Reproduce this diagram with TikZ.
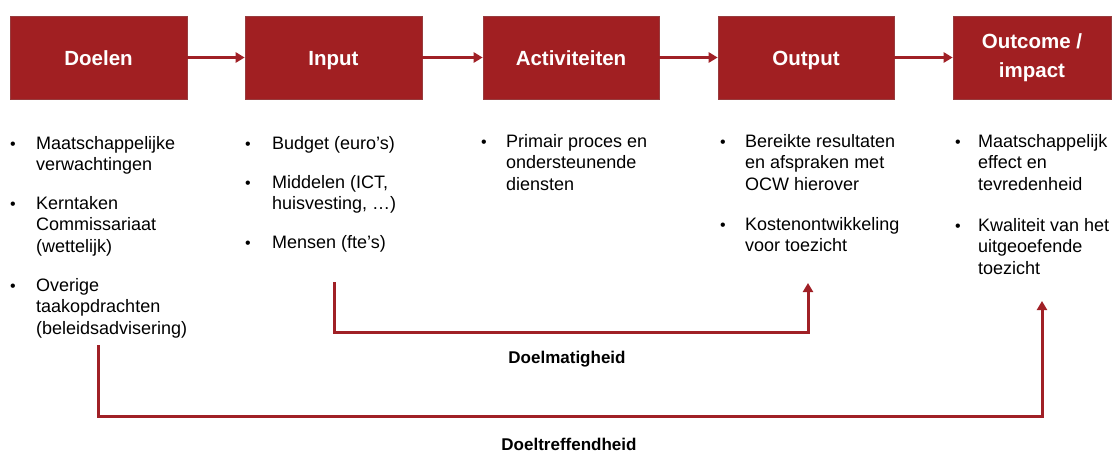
\documentclass[tikz,border=0pt]{standalone}
\usepackage{fontspec}
\setmainfont{Liberation Sans}
\usetikzlibrary{arrows.meta}
\definecolor{boxred}{RGB}{161,31,34}
\definecolor{linered}{RGB}{160,32,38}
\newcommand{\itm}[1]{\parbox[t]{160pt}{\raggedright #1}}
\begin{document}
\begin{tikzpicture}[x=1pt,y=-1pt,
  box/.style={fill=boxred,draw=boxred!70!gray,line width=0.6pt,text=white,font=\fontsize{20.5}{27}\selectfont\bfseries,align=center,minimum height=83pt,inner sep=0pt},
  onebox/.style={box,text height=18pt,text depth=2pt},
  twobox/.style={box,text height=18pt,text depth=31pt},
  conn/.style={draw=linered,line width=3pt,-{Triangle[length=9pt,width=10pt]}},
  loop/.style={draw=linered,line width=3pt,-{Triangle[length=9pt,width=10pt]}},
  item/.style={anchor=base west,inner sep=0pt,font=\fontsize{18}{21.5}\selectfont},
  bul/.style={anchor=base west,inner sep=0pt,font=\fontsize{16}{20}\selectfont},
  lab/.style={inner sep=0pt,font=\fontsize{17}{20}\selectfont\bfseries}]
\useasboundingbox (0,0) rectangle (1120,453);
% boxes
\node[onebox,minimum width=177pt] (doelen) at (98.5,57.5) {Doelen};
\node[onebox,minimum width=177pt] (input) at (333.5,57.5) {Input};
\node[onebox,minimum width=176pt] (activ) at (571,57.5) {Activiteiten};
\node[onebox,minimum width=176pt] (output) at (806,57.5) {Output};
\node[box,minimum width=158pt] (outcome) at (1032,57.5) {\raisebox{-2pt}{\begin{tabular}{@{}c@{}}Outcome /\\[2pt]impact\end{tabular}}};
% arrows between boxes
\draw[conn] (doelen) -- (input);
\draw[conn] (input) -- (activ);
\draw[conn] (activ) -- (output);
\draw[conn] (output) -- (outcome);
% column 1
\node[bul] (b11) at (10,149) {•};
\node[item] (t11) at (36,149) {\itm{Maatschappelijke\\verwachtingen}};
\node[bul] (b12) at (10,209) {•};
\node[item] (t12) at (36,209) {\itm{Kerntaken\\Commissariaat\\(wettelijk)}};
\node[bul] (b13) at (10,291) {•};
\node[item] (t13) at (36,291) {\itm{Overige\\taakopdrachten\\(beleidsadvisering)}};
% column 2
\node[bul] (b21) at (245,149) {•};
\node[item] (t21) at (272,149) {\itm{Budget (euro’s)}};
\node[bul] (b22) at (245,188) {•};
\node[item] (t22) at (272,188) {\itm{Middelen (ICT,\\huisvesting, …)}};
\node[bul] (b23) at (245,248) {•};
\node[item] (t23) at (272,248) {\itm{Mensen (fte’s)}};
% column 3
\node[bul] (b31) at (481,147) {•};
\node[item] (t31) at (506,147) {\itm{Primair proces en\\ondersteunende\\diensten}};
% column 4
\node[bul] (b41) at (720,147) {•};
\node[item] (t41) at (745,147) {\itm{Bereikte resultaten\\en afspraken met\\OCW hierover}};
\node[bul] (b42) at (720,230) {•};
\node[item] (t42) at (745,230) {\itm{Kostenontwikkeling\\voor toezicht}};
% column 5
\node[bul] (b51) at (955,147) {•};
\node[item] (t51) at (978,147) {\itm{Maatschappelijk\\effect en\\tevredenheid}};
\node[bul] (b52) at (955,231) {•};
\node[item] (t52) at (978,231) {\itm{Kwaliteit van het\\uitgeoefende\\toezicht}};
% feedback connectors
\coordinate (dm1) at (334,282);
\coordinate (dm2) at (808,283);
\draw[loop] (dm1) -- ++(0,50) -| (dm2);
\node[lab] (doelm) at (567,359) {Doelmatigheid};
\coordinate (dt1) at (98,345);
\coordinate (dt2) at (1042,301);
\draw[loop] (dt1) -- ++(0,71) -| (dt2);
\node[lab] (doeltr) at (569,444) {Doeltreffendheid};
\end{tikzpicture}
\end{document}
